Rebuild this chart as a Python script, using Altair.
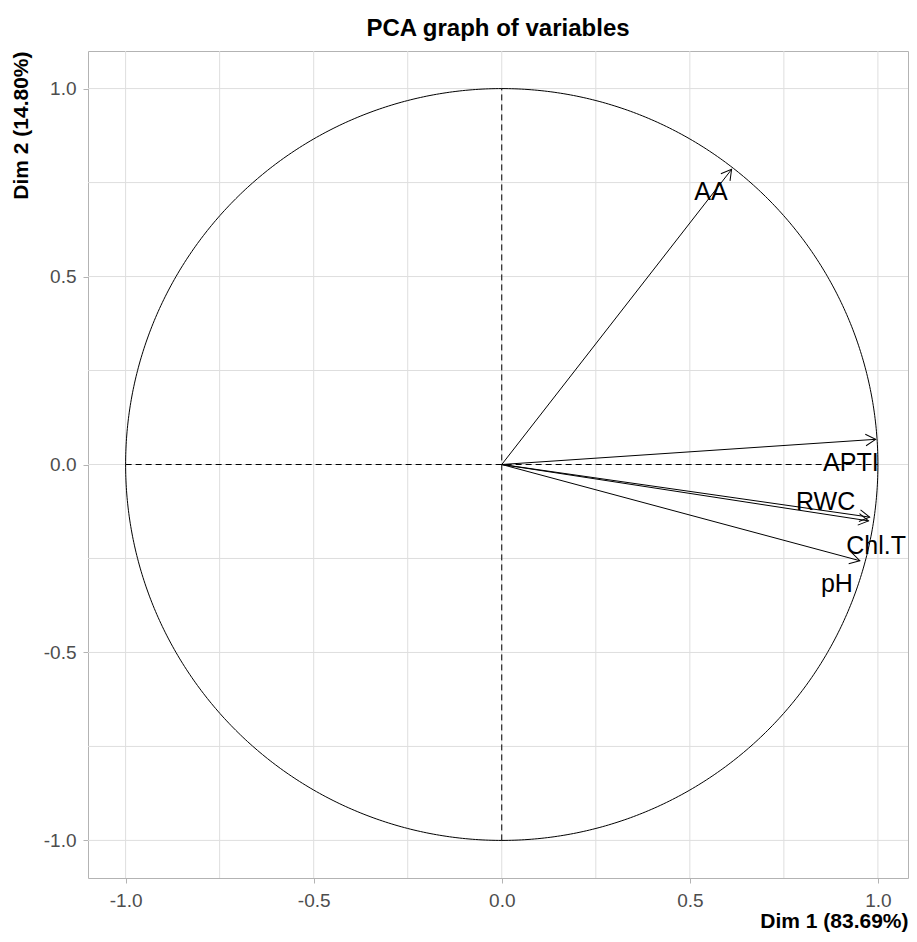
import altair as alt
import numpy as np
import pandas as pd

# ---- data ----
variables = ["AA", "APTI", "RWC", "Chl.T", "pH"]
dim1 = [0.611, 0.994, 0.978, 0.975, 0.952]
dim2 = [0.785, 0.067, -0.140, -0.150, -0.256]
label_x = [0.556, 0.928, 0.861, 0.995, 0.891]
label_y = [0.726, 0.005, -0.101, -0.218, -0.319]

major_ticks = [-1.0, -0.5, 0.0, 0.5, 1.0]
minor_ticks = [-0.75, -0.25, 0.25, 0.75]

x_title = "Dim 1 (83.69%)"
y_title = "Dim 2 (14.80%)"
chart_title = "PCA graph of variables"

FONT = "Liberation Sans"

# ---- tables ----
arrows = pd.DataFrame({"var": variables, "x": dim1, "y": dim2,
                       "x0": 0.0, "y0": 0.0})
arrows["ang"] = (-np.degrees(np.arctan2(arrows["y"], arrows["x"]))) % 360
labels = pd.DataFrame({"var": variables, "lx": label_x, "ly": label_y})

t = np.linspace(0, 2 * np.pi, 721)
circle = pd.DataFrame({"cx": np.cos(t), "cy": np.sin(t), "i": np.arange(len(t))})

grid = pd.DataFrame({"g": major_ticks + minor_ticks})
dash = pd.DataFrame({"a": [-1.0, 0.0], "b": [0.0, -1.0],
                     "a2": [1.0, 0.0], "b2": [0.0, 1.0]})

# panel is trimmed a few pixels on the right so the page fits the window
sx = alt.Scale(domain=[-1.1, 1.08], nice=False, zero=False)
sy = alt.Scale(domain=[-1.1, 1.1], nice=False, zero=False)
label_expr = "(datum.value < 0 ? '-' : '') + format(abs(datum.value), '.1f')"
ax_x = alt.Axis(values=major_ticks, labelExpr=label_expr, title=x_title,
                labelPadding=8, titlePadding=0)
ax_y = alt.Axis(values=major_ticks, labelExpr=label_expr, title=y_title,
                labelPadding=7, titlePadding=12)


def X(f):
    return alt.X(f, type="quantitative", scale=sx, axis=ax_x)


def Y(f):
    return alt.Y(f, type="quantitative", scale=sy, axis=ax_y)


gx = alt.Chart(grid).mark_rule(color="#dedede", strokeWidth=1).encode(x=X("g"))
gy = alt.Chart(grid).mark_rule(color="#dedede", strokeWidth=1).encode(y=Y("g"))

dashes = alt.Chart(dash).mark_rule(color="black", strokeWidth=1, strokeDash=[6, 4]).encode(
    x=X("a"), y=Y("b"), x2="a2", y2="b2")

circ = alt.Chart(circle).mark_line(color="black", strokeWidth=1).encode(
    x=X("cx"), y=Y("cy"), order="i:Q")

shafts = alt.Chart(arrows).mark_rule(color="black", strokeWidth=1).encode(
    x=X("x0"), y=Y("y0"), x2="x", y2="y")

heads = alt.Chart(arrows).mark_point(
    shape="M-1,-0.58L0,0L-1,0.58", filled=False, color="black",
    strokeWidth=1, size=400, opacity=1).encode(
    x=X("x"), y=Y("y"), angle=alt.Angle("ang:Q", scale=None))

texts = alt.Chart(labels).mark_text(
    font=FONT, fontSize=25, color="black", align="center", baseline="middle").encode(
    x=X("lx"), y=Y("ly"), text="var:N")

chart = alt.layer(gx, gy, dashes, circ, shafts, heads, texts).properties(
    width=820, height=827,
    autosize=alt.AutoSizeParams(type="none"),
    padding={"left": 80, "top": 43, "right": 1, "bottom": 54},
    title=alt.Title(chart_title, anchor="middle", font=FONT, fontSize=24,
                    fontWeight="bold", color="black", offset=10, frame="group"),
).configure_view(stroke="#b3b3b3", strokeWidth=1).configure_axis(
    grid=False, domain=False, ticks=True, tickSize=5, tickColor="#b3b3b3",
    labelFont=FONT, labelFontSize=19, labelColor="#4d4d4d",
    titleFont=FONT, titleFontSize=21, titleFontWeight="bold", titleColor="black",
    titleAnchor="end",
)

chart.save("out.html", embed_options={"renderer": "svg", "actions": False})
